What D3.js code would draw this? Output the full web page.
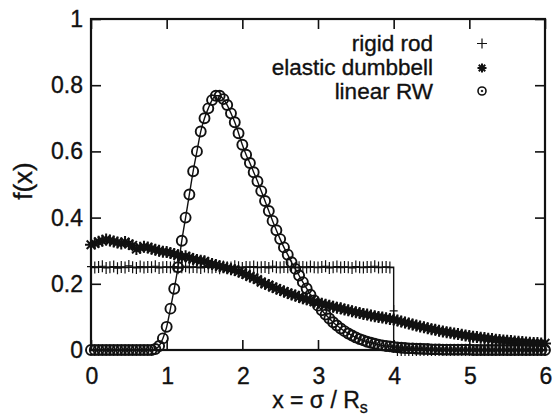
<!DOCTYPE html>
<html><head><meta charset="utf-8">
<script src="https://cdn.jsdelivr.net/npm/d3@7"></script>
<style>html,body{margin:0;padding:0;background:#fff;}svg{display:block;}</style>
</head><body>
<svg id="c" width="556" height="416"></svg>
<script>
const xGrid = [0,0.05,0.1,0.15,0.2,0.25,0.3,0.35,0.4,0.45,0.5,0.55,0.6,0.65,0.7,0.75,0.8,0.85,0.9,0.95,
1,1.05,1.1,1.15,1.2,1.25,1.3,1.35,1.4,1.45,1.5,1.55,1.6,1.65,1.7,1.75,1.8,1.85,1.9,1.95,
2,2.05,2.1,2.15,2.2,2.25,2.3,2.35,2.4,2.45,2.5,2.55,2.6,2.65,2.7,2.75,2.8,2.85,2.9,2.95,
3,3.05,3.1,3.15,3.2,3.25,3.3,3.35,3.4,3.45,3.5,3.55,3.6,3.65,3.7,3.75,3.8,3.85,3.9,3.95,
4,4.05,4.1,4.15,4.2,4.25,4.3,4.35,4.4,4.45,4.5,4.55,4.6,4.65,4.7,4.75,4.8,4.85,4.9,4.95,
5,5.05,5.1,5.15,5.2,5.25,5.3,5.35,5.4,5.45,5.5,5.55,5.6,5.65,5.7,5.75,5.8,5.85,5.9,5.95,6];

const rigidRod = [0.252,0.249,0.251,0.253,0.248,0.250,0.252,0.247,0.251,0.249,0.254,0.250,0.248,0.252,0.249,0.251,0.250,0.253,0.248,0.250,
0.251,0.249,0.252,0.247,0.250,0.253,0.249,0.251,0.250,0.248,0.252,0.250,0.249,0.251,0.247,0.252,0.250,0.249,0.253,0.250,
0.248,0.251,0.250,0.252,0.249,0.250,0.251,0.248,0.253,0.250,0.249,0.251,0.250,0.252,0.248,0.250,0.251,0.249,0.252,0.250,
0.249,0.251,0.253,0.248,0.250,0.252,0.249,0.251,0.250,0.248,0.252,0.250,0.249,0.251,0.250,0.253,0.249,0.250,0.251,0.249,
0.118,0,0,0,0,0,0,0,0,0,0,0,0,0,0,0,0,0,0,0,
0,0,0,0,0,0,0,0,0,0,0,0,0,0,0,0,0,0,0,0,0];

const elasticDumbbell = [0.318,0.322,0.327,0.330,0.334,0.331,0.328,0.325,0.322,0.326,0.320,0.316,0.305,0.309,0.312,0.310,0.306,0.303,0.300,0.297,
0.296,0.293,0.290,0.286,0.280,0.283,0.279,0.275,0.272,0.270,0.268,0.262,0.260,0.257,0.253,0.250,0.247,0.244,0.242,0.237,
0.233,0.228,0.222,0.218,0.213,0.205,0.200,0.196,0.190,0.186,0.181,0.177,0.172,0.168,0.165,0.160,0.156,0.153,0.150,0.146,
0.143,0.140,0.137,0.134,0.131,0.128,0.126,0.122,0.120,0.117,0.114,0.112,0.109,0.107,0.104,0.102,0.100,0.098,0.096,0.094,
0.092,0.089,0.086,0.083,0.080,0.077,0.074,0.071,0.069,0.066,0.063,0.061,0.058,0.056,0.054,0.052,0.050,0.048,0.046,0.044,
0.042,0.040,0.039,0.037,0.036,0.034,0.033,0.031,0.030,0.029,0.028,0.027,0.026,0.025,0.024,0.023,0.022,0.021,0.021,0.020,0.020];

const linearRW = [0,0,0,0,0,0,0,0,0,0,0,0,0,0,0,0,0,0.003,0.012,0.035,
0.07,0.125,0.185,0.25,0.33,0.40,0.47,0.54,0.60,0.66,0.70,0.73,0.755,0.768,0.768,0.758,0.74,0.715,0.688,0.655,
0.62,0.59,0.565,0.537,0.51,0.48,0.45,0.42,0.39,0.362,0.335,0.31,0.288,0.265,0.245,0.225,0.205,0.186,0.167,0.15,
0.134,0.12,0.107,0.095,0.084,0.074,0.065,0.057,0.05,0.044,0.038,0.033,0.029,0.025,0.022,0.019,0.016,0.014,0.012,0.011,
0.009,0.008,0.007,0.006,0.005,0.005,0.004,0.004,0.003,0.003,0.002,0.002,0.002,0.001,0.001,0.001,0.001,0.001,0.001,0.001,
0.001,0,0,0,0,0,0,0,0,0,0,0,0,0,0,0,0,0,0,0,0];

// theoretical step for rigid rod
const rodTheoryX = [0,4,4,6];
const rodTheoryY = [0.25,0.25,0,0];

const xTicks = [0,1,2,3,4,5,6];
const yTicks = [0,0.2,0.4,0.6,0.8,1];
const yTickLabels = ["0","0.2","0.4","0.6","0.8","1"];
const legendLabels = ["rigid rod","elastic dumbbell","linear RW"];

const ink = "#111";
const FONT = "'Liberation Sans', Arial, Helvetica, sans-serif";
const FS = 23;

const svg = d3.select("#c");
const x = d3.scaleLinear().domain([0,6]).range([91,545]);
const y = d3.scaleLinear().domain([0,1]).range([350,19]);

function txt(px,py,s,anchor,size){
  return svg.append("text").attr("x",px).attr("y",py).attr("text-anchor",anchor||"start")
    .attr("font-family",FONT).attr("font-size",size||FS).attr("fill",ink)
    .attr("stroke",ink).attr("stroke-width",0.35).text(s);
}

// axes via d3.axis, inward ticks, mirrored
const tl = 10;
function styleAxis(g){ g.select(".domain").remove(); g.selectAll("line").attr("stroke",ink).attr("stroke-width",1.6); }
svg.append("g").attr("transform",`translate(0,${y(0)})`)
  .call(d3.axisBottom(x).tickValues(xTicks).tickSize(-tl).tickFormat("")).call(styleAxis);
svg.append("g").attr("transform",`translate(0,${y(1)})`)
  .call(d3.axisTop(x).tickValues(xTicks).tickSize(-tl).tickFormat("")).call(styleAxis);
svg.append("g").attr("transform",`translate(${x(0)},0)`)
  .call(d3.axisLeft(y).tickValues(yTicks).tickSize(-tl).tickFormat("")).call(styleAxis);
svg.append("g").attr("transform",`translate(${x(6)},0)`)
  .call(d3.axisRight(y).tickValues(yTicks).tickSize(-tl).tickFormat("")).call(styleAxis);

// tick labels
xTicks.forEach(v=>txt(x(v)+1, y(0)+34, String(v), "middle"));
yTicks.forEach((v,i)=>txt(x(0)-8, y(v)+8, yTickLabels[i], "end"));

// axis titles
const xl = svg.append("text").attr("x",320).attr("y",408).attr("text-anchor","middle")
  .attr("font-family",FONT).attr("font-size",FS).attr("fill",ink).attr("stroke",ink).attr("stroke-width",0.35);
xl.append("tspan").text("x = σ / R");
xl.append("tspan").attr("font-size",16).attr("dy",5).text("s");
svg.append("text").attr("transform","translate(32,181) rotate(-90)").attr("text-anchor","middle")
  .attr("font-family",FONT).attr("font-size",26).attr("fill",ink).attr("stroke",ink).attr("stroke-width",0.35).text("f(x)");

// lines
const rodLine = d3.line().x(d=>x(d[0])).y(d=>y(d[1]));
svg.append("path").datum(rodTheoryX.map((v,i)=>[v,rodTheoryY[i]]))
  .attr("d",rodLine).attr("fill","none").attr("stroke",ink).attr("stroke-width",1.4);
svg.append("path").datum(xGrid.map((v,i)=>[v,linearRW[i]]))
  .attr("d",d3.line().x(d=>x(d[0])).y(d=>y(d[1])).curve(d3.curveMonotoneX))
  .attr("fill","none").attr("stroke",ink).attr("stroke-width",1.4);

// markers
const mk = svg.append("g").attr("fill","none").attr("stroke",ink);
function circle(g,cx,cy,r){ g.append("circle").attr("cx",cx).attr("cy",cy).attr("r",r).attr("stroke-width",1.9); }
function plus(g,cx,cy,h,v){ g.append("path").attr("d",`M${cx-h},${cy}H${cx+h}M${cx},${cy-v}V${cy+v}`).attr("stroke-width",1.2); }
function star(g,cx,cy,s){ const d=s*0.72;
  g.append("path").attr("d",`M${cx-s},${cy}H${cx+s}M${cx},${cy-s}V${cy+s}M${cx-d},${cy-d}L${cx+d},${cy+d}M${cx-d},${cy+d}L${cx+d},${cy-d}`).attr("stroke-width",2); }

xGrid.forEach((v,i)=>circle(mk, x(v), y(linearRW[i]), 5));
xGrid.forEach((v,i)=>star(mk, x(v), y(elasticDumbbell[i]), 6));
xGrid.forEach((v,i)=>plus(mk, x(v), y(rigidRod[i]), 4, 6));

// frame
svg.append("rect").attr("x",x(0)).attr("y",y(1)).attr("width",x(6)-x(0)).attr("height",y(0)-y(1))
  .attr("fill","none").attr("stroke",ink).attr("stroke-width",2.2);

// legend
const lx = 433, sx = 482, rows = [51,75,99];
legendLabels.forEach((s,i)=>txt(lx, rows[i], s, "end", 22.5));
const lg = svg.append("g").attr("fill","none").attr("stroke",ink);
plus(lg, sx, 43.5, 5, 5);
star(lg, sx, 68, 4.5);
lg.append("circle").attr("cx",sx).attr("cy",91).attr("r",4).attr("stroke-width",1.6);
lg.append("circle").attr("cx",sx).attr("cy",91).attr("r",0.8).attr("fill",ink);
</script>
</body></html>
